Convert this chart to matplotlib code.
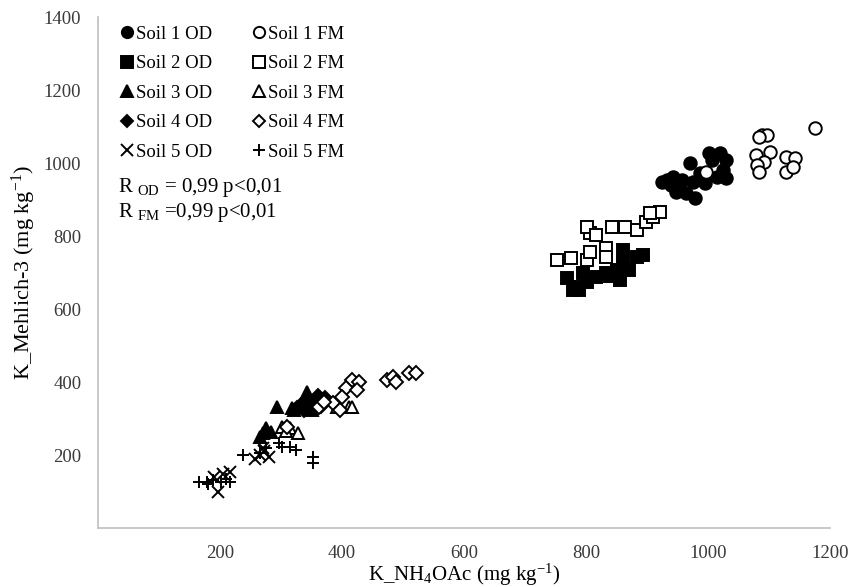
import matplotlib.pyplot as plt

plt.rcParams['font.family'] = ['Liberation Serif', 'DejaVu Serif']
plt.rcParams['mathtext.fontset'] = 'custom'
plt.rcParams['mathtext.rm'] = 'Liberation Serif'
plt.rcParams['mathtext.it'] = 'Liberation Serif:italic'

# K extraido con NH4OAc (x) y Mehlich-3 (y), mg/kg
soil1_od_x = [932, 942, 953, 964, 978, 970, 975, 958, 1002, 1019, 1030, 1024, 1030, 1014, 1007, 987, 948, 940, 924, 995]
soil1_od_y = [953, 962, 934, 918, 904, 1000, 948, 953, 1027, 1027, 1008, 981, 959, 962, 1008, 973, 921, 940, 948, 945]
soil1_fm_x = [1089, 1097, 1084, 1079, 1101, 1092, 1081, 1084, 1128, 1142, 1128, 1139, 1175, 997]
soil1_fm_y = [1077, 1077, 1071, 1022, 1030, 1003, 995, 975, 1016, 1014, 975, 989, 1096, 975]

soil2_od_x = [768, 784, 801, 778, 817, 833, 850, 860, 860, 855, 883, 893, 871, 789, 795, 840]
soil2_od_y = [685, 660, 674, 652, 688, 699, 707, 762, 726, 679, 742, 748, 707, 652, 700, 690]
soil2_fm_x = [753, 776, 801, 806, 802, 817, 833, 833, 806, 843, 863, 883, 899, 910, 921, 904]
soil2_fm_y = [734, 740, 734, 808, 825, 803, 767, 742, 756, 825, 825, 816, 838, 852, 866, 863]

soil3_od_x = [294, 343, 322, 330, 342, 350, 270, 276, 284, 265, 336, 318]
soil3_od_y = [332, 373, 323, 332, 337, 323, 260, 274, 263, 249, 345, 330]
soil3_fm_x = [302, 314, 327, 412, 417, 391, 308]
soil3_fm_y = [277, 274, 260, 332, 332, 332, 266]

soil4_od_x = [326, 334, 345, 356, 365, 338, 350, 372, 360]
soil4_od_y = [330, 340, 345, 350, 335, 322, 330, 355, 362]
soil4_fm_x = [417, 428, 407, 424, 363, 385, 396, 473, 483, 489, 510, 521, 309, 370, 400]
soil4_fm_y = [405, 400, 384, 378, 332, 342, 323, 405, 414, 400, 425, 425, 277, 345, 360]

soil5_od_x = [196, 216, 205, 190, 265, 272, 280, 258, 270]
soil5_od_y = [99, 153, 147, 140, 200, 212, 195, 190, 220]
soil5_fm_x = [166, 178, 188, 202, 216, 237, 265, 276, 302, 314, 325, 352, 352, 297, 180, 210]
soil5_fm_y = [126, 126, 132, 126, 126, 200, 205, 219, 222, 222, 214, 195, 178, 233, 120, 135]

x_ticks = [200, 400, 600, 800, 1000, 1200]
y_ticks = [200, 400, 600, 800, 1000, 1200, 1400]

fig = plt.figure(figsize=(8.54, 5.87), dpi=100)
ax = fig.add_axes([0.1148, 0.1005, 0.8572, 0.8705])

series = [
    (soil1_od_x, soil1_od_y, 'o', True, 'Soil 1 OD'),
    (soil2_od_x, soil2_od_y, 's', True, 'Soil 2 OD'),
    (soil3_od_x, soil3_od_y, '^', True, 'Soil 3 OD'),
    (soil4_od_x, soil4_od_y, 'D', True, 'Soil 4 OD'),
    (soil5_od_x, soil5_od_y, 'x', True, 'Soil 5 OD'),
    (soil1_fm_x, soil1_fm_y, 'o', False, 'Soil 1 FM'),
    (soil2_fm_x, soil2_fm_y, 's', False, 'Soil 2 FM'),
    (soil3_fm_x, soil3_fm_y, '^', False, 'Soil 3 FM'),
    (soil4_fm_x, soil4_fm_y, 'D', False, 'Soil 4 FM'),
    (soil5_fm_x, soil5_fm_y, '+', False, 'Soil 5 FM'),
]

for xs, ys, m, filled, label in series:
    size = 7 if m == 'D' else 9
    ax.plot(xs, ys, linestyle='none', marker=m, markersize=size,
            markerfacecolor='black' if filled else 'white',
            markeredgecolor='black', markeredgewidth=1.4, label=label)

ax.set_xlim(0, 1200)
ax.set_ylim(0, 1400)
ax.set_xticks(x_ticks)
ax.set_yticks(y_ticks)
ax.tick_params(length=0, labelsize=13.5, labelcolor='#3a3a3a')
ax.tick_params(axis='x', pad=12)
ax.tick_params(axis='y', pad=12)

for side in ['top', 'right']:
    ax.spines[side].set_visible(False)
for side in ['left', 'bottom']:
    ax.spines[side].set_color('#bfbfbf')
    ax.spines[side].set_linewidth(1.2)

ax.set_xlabel('K_NH$_4$OAc (mg kg$^{-1}$)', fontsize=15, labelpad=0)
ax.set_ylabel('K_Mehlich-3 (mg kg$^{-1}$)', fontsize=16, labelpad=4)

leg = ax.legend(ncol=2, loc='upper left', bbox_to_anchor=(0.016, 0.998),
                frameon=False, fontsize=13.5, handletextpad=0.0,
                handlelength=1.0, columnspacing=2.0, labelspacing=0.66,
                markerscale=0.9, borderaxespad=0.0)

ax.text(0.027, 0.667, 'R $_{\\mathrm{OD}}$ = 0,99 p<0,01', transform=ax.transAxes,
        fontsize=15, va='center')
ax.text(0.027, 0.618, 'R $_{\\mathrm{FM}}$ =0,99 p<0,01', transform=ax.transAxes,
        fontsize=15, va='center')

fig.savefig('out.png', dpi=100)
